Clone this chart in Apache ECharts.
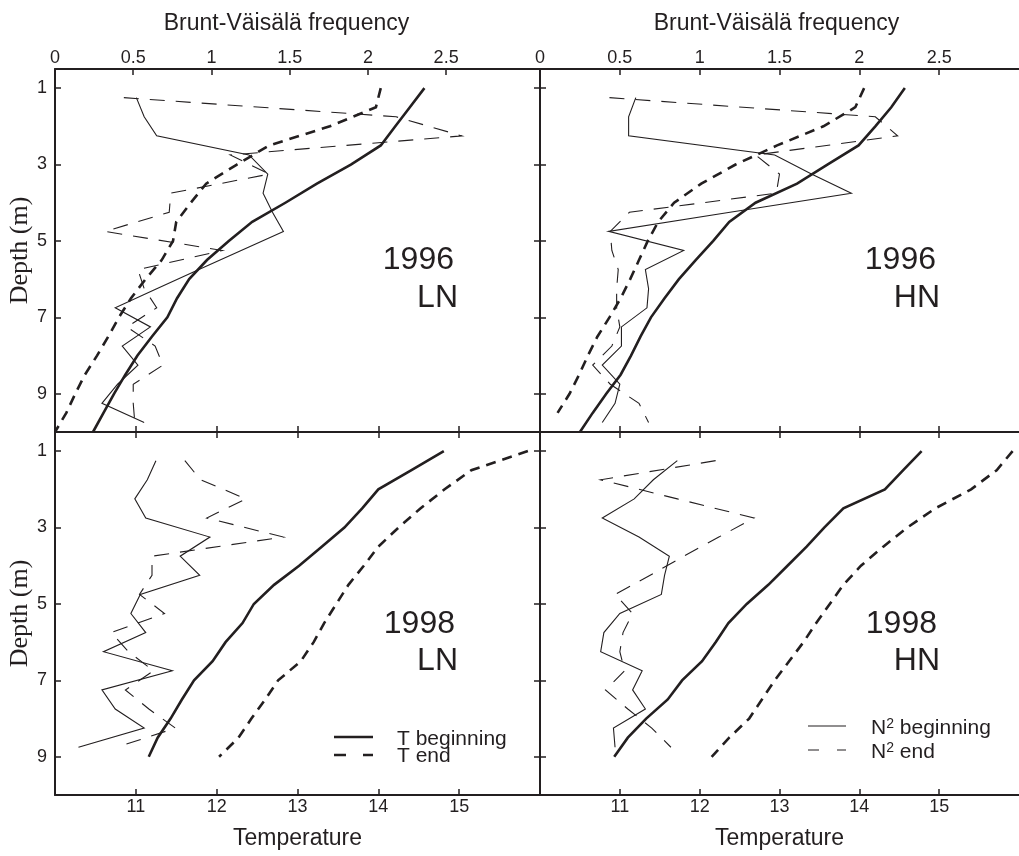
<!DOCTYPE html>
<html><head><meta charset="utf-8">
<script src="https://cdn.jsdelivr.net/npm/echarts@6/dist/echarts.min.js"></script>
<style>html,body{margin:0;padding:0;background:#fff}#c{width:1019px;height:856px}</style>
</head><body><div id="c"></div>
<script>
// ---------- data ----------
const depthT96 = [1,1.5,2,2.5,3,3.5,4,4.5,5,5.5,6,6.5,7,7.5,8,8.5,9,9.5,10];
const depthN96 = [1.25,1.75,2.25,2.75,3.25,3.75,4.25,4.75,5.25,5.75,6.25,6.75,7.25,7.75,8.25,8.75,9.25,9.75];
const depthT98 = [1,1.5,2,2.5,3,3.5,4,4.5,5,5.5,6,6.5,7,7.5,8,8.5,9];
const depthN98 = [1.25,1.75,2.25,2.75,3.25,3.75,4.25,4.75,5.25,5.75,6.25,6.75,7.25,7.75,8.25,8.75];

// 1996 LN
const tBeg96LN = [14.57,14.39,14.21,14.03,13.66,13.24,12.85,12.44,12.15,11.88,11.66,11.51,11.39,11.20,11.02,10.87,10.73,10.60,10.47];
const tEnd96LN = [14.03,13.97,13.40,12.65,12.25,11.87,11.68,11.50,11.46,11.32,11.12,10.94,10.79,10.66,10.52,10.37,10.25,10.14,10.00];
const nBeg96LN = [0.52,0.57,0.65,1.24,1.36,1.33,1.39,1.46,1.19,0.92,0.65,0.385,0.61,0.43,0.53,0.40,0.30,0.57];
const nEnd96LN = [0.44,2.18,2.60,1.12,1.37,0.74,0.73,0.32,1.07,0.53,0.57,0.65,0.46,0.64,0.69,0.50,0.50,0.51];
// 1996 HN
const tBeg96HN = [14.57,14.40,14.20,13.99,13.60,13.22,12.70,12.37,12.17,11.95,11.74,11.56,11.39,11.26,11.14,11.01,10.83,10.66,10.50];
const tEnd96HN = [14.06,13.95,13.55,12.97,12.45,12.02,11.68,11.48,11.35,11.24,11.13,11.01,10.87,10.72,10.60,10.49,10.37,10.22,null];
const nBeg96HN = [0.60,0.555,0.555,1.47,1.70,1.95,1.19,0.43,0.90,0.66,0.68,0.67,0.51,0.51,0.39,0.50,0.47,0.39];
const nEnd96HN = [0.435,2.10,2.24,1.35,1.50,1.48,0.56,0.44,0.45,0.49,0.48,0.48,0.50,0.45,0.33,0.44,0.62,0.68];
// 1998 LN
const tBeg98LN = [14.81,14.41,14.00,13.80,13.58,13.30,13.02,12.71,12.46,12.32,12.11,11.95,11.72,11.57,11.43,11.27,11.16];
const tEnd98LN = [15.85,15.15,14.82,14.52,14.25,14.00,13.82,13.63,13.48,13.33,13.20,13.04,12.76,12.60,12.43,12.27,12.03];
const nBeg98LN = [0.645,0.59,0.51,0.58,0.99,0.80,0.925,0.545,0.485,0.58,0.31,0.75,0.30,0.385,0.57,0.15];
const nEnd98LN = [0.83,0.93,1.22,0.97,1.46,0.62,0.62,0.54,0.70,0.36,0.47,0.63,0.45,0.60,0.77,0.395];
// 1998 HN
const tBeg98HN = [14.78,14.55,14.32,13.80,13.56,13.34,13.10,12.86,12.59,12.36,12.20,12.03,11.78,11.60,11.33,11.10,10.93];
const tEnd98HN = [15.92,15.72,15.40,14.95,14.60,14.30,14.02,13.80,13.63,13.46,13.30,13.12,12.94,12.78,12.62,12.37,12.15];
const nBeg98HN = [0.86,0.71,0.59,0.39,0.62,0.81,0.78,0.76,0.50,0.40,0.38,0.64,0.58,0.66,0.46,0.47];
const nEnd98HN = [1.10,0.38,0.86,1.34,1.12,0.90,0.69,0.47,0.58,0.52,0.50,0.53,0.41,0.55,0.70,0.82];

const bruntTicks = [0,0.5,1,1.5,2,2.5];
const tempTicks = [11,12,13,14,15];
const depthTicks = [1,3,5,7,9];
const panelYears = ['1996','1996','1998','1998'];
const panelSites = ['LN','HN','LN','HN'];

// ---------- layout ----------
const INK = '#231f20';
const grids = [
  {left:55, top:69, width:485, height:363},
  {left:540, top:69, width:486, height:363},
  {left:55, top:432, width:485, height:363},
  {left:540, top:432, width:486, height:363}
];
const bruntMax = [3.1, 3.0, 3.1, 3.0];

const axisLine = {show:true, lineStyle:{color:INK, width:2}};
function tick(vals){ return {show:true, inside:true, length:6, customValues:vals, lineStyle:{color:INK, width:1.5}}; }
function label(vals, show, margin){ return {show:show, customValues:vals, fontSize:18, color:INK, fontFamily:'Liberation Sans', margin:margin}; }

const xAxis = [], yAxis = [];
for (let g = 0; g < 4; g++) {
  const top = g < 2;
  xAxis.push({
    type:'value', gridIndex:g, position:'top', min:0, max:bruntMax[g], show: top,
    axisLine:axisLine, axisTick:tick(bruntTicks), axisLabel:label(bruntTicks, top, 2), splitLine:{show:false},
    name: top ? 'Brunt-Väisälä frequency' : '', nameLocation:'middle', nameGap:34,
    nameTextStyle:{fontSize:23, color:INK, fontFamily:'Liberation Sans', padding: g===0 ? [0,22,0,0] : [0,6,0,0]}
  });
  xAxis.push({
    type:'value', gridIndex:g, position:'bottom', min:10, max:16,
    axisLine:axisLine, axisTick:tick(tempTicks), axisLabel:label(tempTicks, !top, 3), splitLine:{show:false},
    name: top ? '' : 'Temperature', nameLocation:'middle', nameGap:32,
    nameTextStyle:{fontSize:23, color:INK, fontFamily:'Liberation Sans'}
  });
  yAxis.push({
    type:'value', gridIndex:g, position:'left', inverse:true, min:0.5, max:10,
    axisLine:axisLine, axisTick:tick(depthTicks), axisLabel:label(depthTicks, g%2===0, 8), splitLine:{show:false},
    name: g%2===0 ? 'Depth (m)' : '', nameLocation:'middle', nameGap:20,
    nameTextStyle:{fontSize:26, color:INK, fontFamily:'Liberation Serif'}
  });
  yAxis.push({
    type:'value', gridIndex:g, position:'right', inverse:true, min:0.5, max:10, show: g%2===0,
    axisLine:axisLine, axisTick:tick(depthTicks), axisLabel:{show:false}, splitLine:{show:false}
  });
}
for (let g = 2; g < 4; g++) {
  xAxis.push({
    type:'value', gridIndex:g, position:'top', min:10, max:16,
    axisLine:axisLine, axisTick:tick(tempTicks), axisLabel:{show:false}, splitLine:{show:false}
  });
}

function pairs(vals, depths){
  const out = [];
  vals.forEach((v,i)=>{ if (v !== null && v !== undefined) out.push([v, depths[i]]); });
  return out;
}
const series = [];
const panelData = [
  {tb:tBeg96LN, te:tEnd96LN, nb:nBeg96LN, ne:nEnd96LN, dT:depthT96, dN:depthN96},
  {tb:tBeg96HN, te:tEnd96HN, nb:nBeg96HN, ne:nEnd96HN, dT:depthT96, dN:depthN96},
  {tb:tBeg98LN, te:tEnd98LN, nb:nBeg98LN, ne:nEnd98LN, dT:depthT98, dN:depthN98},
  {tb:tBeg98HN, te:tEnd98HN, nb:nBeg98HN, ne:nEnd98HN, dT:depthT98, dN:depthN98}
];
function line(name, data, xi, yi, width, dash){
  return {name, type:'line', data, xAxisIndex:xi, yAxisIndex:yi, showSymbol:false, symbol:'none',
    silent:true, animation:false, clip:true,
    lineStyle:{color:INK, width:width, type: dash ? dash : 'solid', cap:'butt', join:'miter'}};
}
panelData.forEach((p,g)=>{
  series.push(line('N2 beginning', pairs(p.nb, p.dN), 2*g, 2*g, 1.1, null));
  series.push(line('N2 end', pairs(p.ne, p.dN), 2*g, 2*g, 1.1, [15,11]));
  series.push(line('T beginning', pairs(p.tb, p.dT), 2*g+1, 2*g, 2.6, null));
  series.push(line('T end', pairs(p.te, p.dT), 2*g+1, 2*g, 2.6, [10,7]));
});

// ---------- panel labels & legends ----------
const labelPos = [
  {x1:454, y1:260, x2:458, y2:298},
  {x1:936, y1:260, x2:940, y2:298},
  {x1:455, y1:624, x2:458, y2:661},
  {x1:937, y1:624, x2:940, y2:661}
];
const graphic = [];
labelPos.forEach((p,g)=>{
  graphic.push({type:'text', x:p.x1, y:p.y1, style:{text:panelYears[g], font:'32px "Liberation Sans"', fill:INK, textAlign:'right', textVerticalAlign:'middle'}});
  graphic.push({type:'text', x:p.x2, y:p.y2, style:{text:panelSites[g], font:'32px "Liberation Sans"', fill:INK, textAlign:'right', textVerticalAlign:'middle'}});
});
graphic.push({type:'line', shape:{x1:334,y1:737,x2:373,y2:737}, style:{stroke:INK, lineWidth:2.6}});
graphic.push({type:'line', shape:{x1:334,y1:755,x2:373,y2:755}, style:{stroke:INK, lineWidth:2.6, lineDash:[12,17]}});
graphic.push({type:'text', x:397, y:739, style:{text:'T beginning', font:'21px "Liberation Sans"', fill:INK, textVerticalAlign:'middle'}});
graphic.push({type:'text', x:397, y:756, style:{text:'T end', font:'21px "Liberation Sans"', fill:INK, textVerticalAlign:'middle'}});
graphic.push({type:'line', shape:{x1:808,y1:726,x2:846,y2:726}, style:{stroke:INK, lineWidth:1.1}});
graphic.push({type:'line', shape:{x1:808,y1:750,x2:846,y2:750}, style:{stroke:INK, lineWidth:1.1, lineDash:[11,18]}});
const richN = {sup:{fontSize:14, fontFamily:'Liberation Sans', fill:INK, verticalAlign:'top', lineHeight:22}, b:{fontSize:21, fontFamily:'Liberation Sans', fill:INK, lineHeight:22}};
graphic.push({type:'text', x:871, y:728, style:{text:'{b|N}{sup|2}{b| beginning}', rich:richN, textVerticalAlign:'middle'}});
graphic.push({type:'text', x:871, y:752, style:{text:'{b|N}{sup|2}{b| end}', rich:richN, textVerticalAlign:'middle'}});

const chart = echarts.init(document.getElementById('c'), null, {renderer:'canvas'});
chart.setOption({
  animation:false,
  backgroundColor:'#ffffff',
  grid: grids.map(g=>Object.assign({containLabel:false}, g)),
  xAxis, yAxis, series, graphic
});
</script>
</body></html>
